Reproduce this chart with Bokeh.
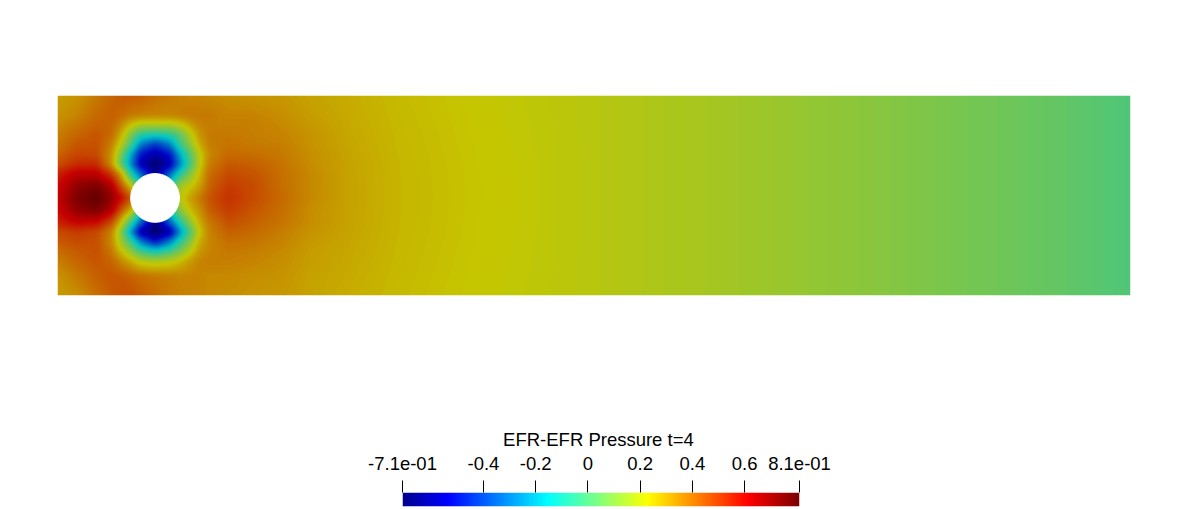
import numpy as np
from bokeh.embed import file_html
from bokeh.resources import INLINE
from bokeh.layouts import column, row
from bokeh.models import Range1d, LinearColorMapper, FixedTicker
from bokeh.plotting import figure

# --- values (pressure at probe points) ---
p_min, p_max = -0.71, 0.81
tick_values = [-0.71, -0.4, -0.2, 0, 0.2, 0.4, 0.6, 0.81]
tick_labels = ["-7.1e-01", "-0.4", "-0.2", "0", "0.2", "0.4", "0.6", "8.1e-01"]
title_text = "EFR-EFR  Pressure t=4"
channel_x = [0, 2.2]
channel_y = [0, 0.41]
cylinder_x, cylinder_y, cylinder_r = 0.2, 0.2, 0.05

near_x = [0, .04, .08, .11, .13, .15, .17, .2, .23, .25, .27, .29, .31, .35, .40, .46, .52]
near_y = [0, .04, .07, .09, .11, .13, .15, .175, .2, .225, .25, .27, .29, .31, .33, .35, .37, .41]
near_p = [
    [.31, .34, .40, .44, .46, .46, .44, .41, .38, .37, .36, .36, .35, .34, .33, .32, .30],
    [.33, .38, .43, .45, .44, .42, .40, .38, .37, .36, .36, .36, .35, .35, .34, .33, .30],
    [.37, .42, .45, .42, .35, .28, .20, .17, .20, .25, .31, .36, .37, .37, .36, .34, .31],
    [.40, .44, .46, .38, .25, .12, -.03, -.12, -.03, .08, .20, .32, .36, .38, .37, .35, .31],
    [.44, .47, .46, .35, .15, -.05, -.30, -.50, -.30, -.08, .08, .28, .35, .40, .39, .36, .32],
    [.47, .50, .47, .36, .10, -.25, -.60, -.72, -.60, -.28, -.02, .22, .36, .43, .41, .37, .33],
    [.55, .62, .60, .47, .25, -.05, -.35, -.70, -.35, -.10, .10, .28, .38, .46, .43, .39, .34],
    [.60, .72, .76, .66, .45, .28, -.10, -.50, -.10, .10, .25, .33, .43, .50, .45, .40, .34],
    [.62, .76, .81, .72, .60, .45, .20, .00, .10, .20, .30, .38, .45, .52, .47, .41, .35],
    [.60, .72, .76, .66, .45, .25, -.10, -.50, -.10, .15, .22, .30, .42, .50, .47, .40, .35],
    [.55, .64, .63, .50, .30, -.10, -.35, -.65, -.35, -.10, .08, .25, .40, .47, .45, .40, .35],
    [.46, .53, .53, .33, .02, -.28, -.58, -.72, -.58, -.30, -.05, .20, .37, .44, .43, .39, .34],
    [.42, .48, .47, .33, .08, -.22, -.50, -.60, -.50, -.22, .00, .20, .35, .41, .40, .38, .34],
    [.39, .45, .46, .37, .20, -.02, -.30, -.44, -.30, -.05, .10, .28, .37, .39, .38, .37, .33],
    [.37, .42, .45, .41, .28, .08, -.08, -.12, -.08, .02, .18, .32, .38, .38, .37, .36, .33],
    [.35, .39, .43, .42, .35, .24, .17, .17, .17, .21, .29, .36, .37, .37, .37, .35, .32],
    [.33, .36, .41, .43, .41, .38, .37, .36, .36, .37, .38, .38, .38, .36, .36, .34, .31],
    [.31, .33, .38, .42, .44, .44, .43, .40, .38, .37, .36, .36, .35, .34, .33, .32, .30],
]
far_x = [.6, .7, .88, 1.1, 1.32, 1.5, 1.73, 2.04, 2.2]
far_y = [0, .07, .14, .205, .27, .34, .41]
far_p = [
    [.280, .255, .225, .20, .17, .14, .10, .04, .00],
    [.288, .260, .228, .20, .17, .14, .10, .04, .00],
    [.297, .264, .231, .20, .17, .14, .10, .04, .00],
    [.300, .265, .232, .20, .17, .14, .10, .04, .00],
    [.297, .264, .231, .20, .17, .14, .10, .04, .00],
    [.288, .260, .228, .20, .17, .14, .10, .04, .00],
    [.280, .255, .225, .20, .17, .14, .10, .04, .00],
]
# colour stops of the rainbow scale: position, red, green, blue
jet_pos = [0, .111, .365, .619, .873, 1]
jet_r = [0, 0, 0, 255, 255, 128]
jet_g = [0, 0, 255, 255, 0, 0]
jet_b = [143, 255, 255, 0, 0, 0]
surface_shade = 0.78

def palette(shade):
    t = np.linspace(0, 1, 256)
    r = np.interp(t, jet_pos, jet_r) * shade
    g = np.interp(t, jet_pos, jet_g) * shade
    b = np.interp(t, jet_pos, jet_b) * shade
    return ["#%02x%02x%02x" % (int(a), int(c), int(d)) for a, c, d in zip(r, g, b)]

# Shade the probe table across the channel, like a mesh with vertex values.
NX, NY = 1072, 200
px = np.linspace(channel_x[0], channel_x[1], NX)
py = np.linspace(channel_y[0], channel_y[1], NY)
near = np.array(near_p)
far = np.array(far_p)
far_on_near = np.array([np.interp(near_y, far_y, far[:, j]) for j in range(far.shape[1])]).T
all_x = list(near_x) + list(far_x)
table = np.hstack([near, far_on_near])
field = np.array([np.interp(px, all_x, r_) for r_ in table])
field = np.array([np.interp(py, near_y, field[:, j]) for j in range(NX)]).T
for _ in range(2):
    pad = np.pad(field, 2, mode="edge")
    field = sum(pad[2 + a:pad.shape[0] - 2 + a, 2 + c:pad.shape[1] - 2 + c]
                for a in (-2, -1, 0, 1, 2) for c in (-2, -1, 0, 1, 2)) / 25

p = figure(width=1185, height=308, output_backend="svg", toolbar_location=None,
           x_range=Range1d(*channel_x), y_range=Range1d(*channel_y),
           x_axis_location=None, y_axis_location=None,
           min_border_left=57, min_border_right=55, min_border_top=95, min_border_bottom=13,
           outline_line_color=None, background_fill_color="white")
p.grid.visible = False
mapper = LinearColorMapper(palette=palette(surface_shade), low=p_min, high=p_max)
p.image(image=[field], x=channel_x[0], y=channel_y[0],
        dw=channel_x[1] - channel_x[0], dh=channel_y[1] - channel_y[0], color_mapper=mapper)
p.circle(x=[cylinder_x], y=[cylinder_y], radius=cylinder_r, fill_color="white", line_color="white")

bar = figure(width=1185, height=199, output_backend="svg", toolbar_location=None,
             x_range=Range1d(p_min, p_max), y_range=Range1d(0, 1),
             x_axis_location="above", y_axis_location=None,
             min_border_left=402, min_border_right=386, min_border_top=184, min_border_bottom=1,
             outline_line_color=None)
bar.grid.visible = False
bar_mapper = LinearColorMapper(palette=palette(1.0), low=p_min, high=p_max)
bar.image(image=[np.linspace(p_min, p_max, 400).reshape(1, -1)], x=p_min, y=0,
          dw=p_max - p_min, dh=1, color_mapper=bar_mapper)
ax = bar.xaxis[0]
ax.ticker = FixedTicker(ticks=tick_values)
ax.major_label_overrides = dict(zip(tick_values, tick_labels))
ax.axis_line_color = None
ax.major_tick_in = 0
ax.major_tick_out = 12
ax.major_tick_line_color = "black"
ax.minor_tick_line_color = None
ax.major_label_standoff = 11
ax.major_label_text_font = "Liberation Sans"
ax.major_label_text_font_size = "18.5px"
ax.major_label_text_color = "black"
ax.axis_label = title_text
ax.axis_label_text_font = "Liberation Sans"
ax.axis_label_text_font_style = "normal"
ax.axis_label_text_font_size = "18.5px"
ax.axis_label_text_color = "black"
ax.axis_label_standoff = 4

open("out.html", "w").write(file_html(column(row(p), row(bar), spacing=0), INLINE))
